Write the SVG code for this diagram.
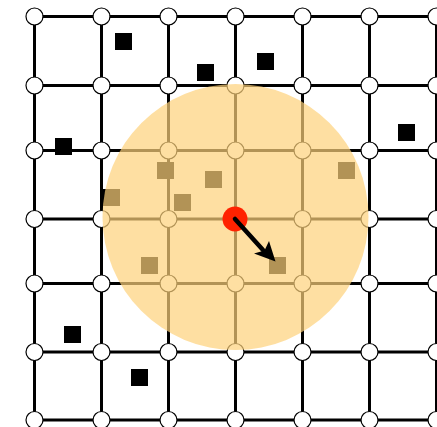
<svg xmlns="http://www.w3.org/2000/svg" width="437" height="427" viewBox="0 0 437 427">
<style>
.g{stroke:#000;stroke-width:3;fill:none}
.n{fill:#fff;stroke:#000;stroke-width:1.2}
.s{fill:#000}
</style>
<rect width="437" height="427" fill="#fff"/>
<g id="connectors" class="g">
<path d="M34.5 16.5H437M34.5 85.5H437M34.5 150.5H437M34.5 219H437M34.5 283.5H437M34.5 352H437M34.5 420H437"/>
<path d="M34.5 16.5V427M101.5 16.5V427M168.5 16.5V427M235.5 16.5V427M302.5 16.5V427M369.5 16.5V427M436.5 16.5V427"/>
</g>
<g id="squares" class="s">
<rect x="115" y="33" width="17" height="17"/>
<rect x="197" y="64" width="17" height="17"/>
<rect x="257" y="53" width="17" height="17"/>
<rect x="55" y="138" width="17" height="17"/>
<rect x="398" y="124" width="17" height="17"/>
<rect x="157" y="162" width="17" height="17"/>
<rect x="205" y="171" width="17" height="17"/>
<rect x="174" y="194" width="17" height="17"/>
<rect x="103" y="189" width="17" height="17"/>
<rect x="338" y="162" width="17" height="17"/>
<rect x="141" y="257" width="17" height="17"/>
<rect x="269" y="257" width="17" height="17"/>
<rect x="64" y="326" width="17" height="17"/>
<rect x="131" y="369" width="17" height="17"/>
</g>
<g id="nodes">
<g class="n">
<circle cx="34.5" cy="16.5" r="8.5"/><circle cx="101.5" cy="16.5" r="8.5"/><circle cx="168.5" cy="16.5" r="8.5"/><circle cx="235.5" cy="16.5" r="8.5"/><circle cx="302.5" cy="16.5" r="8.5"/><circle cx="369.5" cy="16.5" r="8.5"/><circle cx="436.5" cy="16.5" r="8.5"/>
<circle cx="34.5" cy="85.5" r="8.5"/><circle cx="101.5" cy="85.5" r="8.5"/><circle cx="168.5" cy="85.5" r="8.5"/><circle cx="235.5" cy="85.5" r="8.5"/><circle cx="302.5" cy="85.5" r="8.5"/><circle cx="369.5" cy="85.5" r="8.5"/><circle cx="436.5" cy="85.5" r="8.5"/>
<circle cx="34.5" cy="150.5" r="8.5"/><circle cx="101.5" cy="150.5" r="8.5"/><circle cx="168.5" cy="150.5" r="8.5"/><circle cx="235.5" cy="150.5" r="8.5"/><circle cx="302.5" cy="150.5" r="8.5"/><circle cx="369.5" cy="150.5" r="8.5"/><circle cx="436.5" cy="150.5" r="8.5"/>
<circle cx="34.5" cy="219" r="8.5"/><circle cx="101.5" cy="219" r="8.5"/><circle cx="168.5" cy="219" r="8.5"/><circle cx="235.5" cy="219" r="8.5"/><circle cx="302.5" cy="219" r="8.5"/><circle cx="369.5" cy="219" r="8.5"/><circle cx="436.5" cy="219" r="8.5"/>
<circle cx="34.5" cy="283.5" r="8.5"/><circle cx="101.5" cy="283.5" r="8.5"/><circle cx="168.5" cy="283.5" r="8.5"/><circle cx="235.5" cy="283.5" r="8.5"/><circle cx="302.5" cy="283.5" r="8.5"/><circle cx="369.5" cy="283.5" r="8.5"/><circle cx="436.5" cy="283.5" r="8.5"/>
<circle cx="34.5" cy="352" r="8.5"/><circle cx="101.5" cy="352" r="8.5"/><circle cx="168.5" cy="352" r="8.5"/><circle cx="235.5" cy="352" r="8.5"/><circle cx="302.5" cy="352" r="8.5"/><circle cx="369.5" cy="352" r="8.5"/><circle cx="436.5" cy="352" r="8.5"/>
<circle cx="34.5" cy="420" r="8.5"/><circle cx="101.5" cy="420" r="8.5"/><circle cx="168.5" cy="420" r="8.5"/><circle cx="235.5" cy="420" r="8.5"/><circle cx="302.5" cy="420" r="8.5"/><circle cx="369.5" cy="420" r="8.5"/><circle cx="436.5" cy="420" r="8.5"/>
</g>
</g>
<g id="region">
<circle cx="235.5" cy="217" r="133" fill="#FDD27B" fill-opacity="0.7"/>
</g>
<g id="agent">
<circle cx="235" cy="219" r="12.5" fill="#FF2200"/>
</g>
<g id="arrow">
<path d="M235 219L263 250" stroke="#000" stroke-width="4.5" fill="none" stroke-linecap="round"/>
<polygon points="275.5,261.5 254,253.5 264.5,250.5 269,241" fill="#000"/>
</g>
</svg>
